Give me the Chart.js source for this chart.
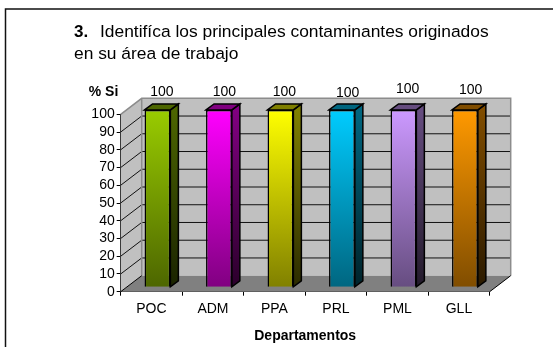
<!DOCTYPE html>
<html>
<head>
<meta charset="utf-8">
<style>
  html, body { margin: 0; padding: 0; background: #fff; overflow: hidden; }
  canvas { display: block; }
</style>
<script src="https://cdn.jsdelivr.net/npm/chart.js@4"></script>
</head>
<body>
<canvas id="chart" width="553" height="347"></canvas>
<script>
// Survey results by department
const departamentos = ['POC', 'ADM', 'PPA', 'PRL', 'PML', 'GLL'];
const porcentajeSi = [100, 100, 100, 100, 100, 100];
const baseColors = ['#99cc00', '#ff00ff', '#ffff00', '#00ccff', '#cc99ff', '#ff9900'];
const yTicks = [0, 10, 20, 30, 40, 50, 60, 70, 80, 90, 100];

const FONT = '"Liberation Sans", Arial, sans-serif';
const WALL = { dx: 21, dy: -16 };       // depth of the plot box
const BAR_SHIFT = { dx: 6, dy: -4.4 };  // bars sit slightly inside the box
const BAR_DEPTH = { dx: 8, dy: -6 };    // depth of each bar
const LABEL_DX = [4.5, 5.5, 4, 5.7, 4.2, 5.7];
const LABEL_Y = [92, 92, 92, 93, 89, 90];

function shade(hex, f) {
  const n = parseInt(hex.slice(1), 16);
  const c = [n >> 16, (n >> 8) & 255, n & 255].map(v => Math.round(v * f));
  return `rgb(${c[0]},${c[1]},${c[2]})`;
}

function poly(ctx, pts, fill, stroke, lw) {
  ctx.beginPath();
  pts.forEach((p, i) => i ? ctx.lineTo(p[0], p[1]) : ctx.moveTo(p[0], p[1]));
  ctx.closePath();
  if (fill) { ctx.fillStyle = fill; ctx.fill(); }
  if (stroke) { ctx.strokeStyle = stroke; ctx.lineWidth = lw; ctx.lineJoin = 'miter'; ctx.stroke(); }
}

// Page frame, heading and the "% Si" caption
const framePlugin = {
  id: 'frame',
  beforeDraw(chart) {
    const ctx = chart.ctx;
    ctx.save();
    ctx.fillStyle = '#fff';
    ctx.fillRect(0, 0, chart.width, chart.height);
    // The frame runs off the right and bottom of the page
    ctx.strokeStyle = '#111';
    ctx.lineWidth = 1.5;
    ctx.beginPath();
    ctx.moveTo(5.5, chart.height);
    ctx.lineTo(5.5, 9);
    ctx.lineTo(chart.width, 9);
    ctx.stroke();
    ctx.fillStyle = '#000';
    ctx.textBaseline = 'alphabetic';
    ctx.textAlign = 'left';
    ctx.font = 'bold 17px ' + FONT;
    ctx.fillText('3.', 74, 37);
    ctx.font = '17.4px ' + FONT;
    ctx.fillText('Identifíca los principales contaminantes originados', 100, 37);
    ctx.fillText('en su área de trabajo', 74, 59);
    ctx.font = 'bold 14px ' + FONT;
    ctx.textAlign = 'center';
    ctx.textBaseline = 'middle';
    ctx.fillText('% Si', 103.5, 92);
    ctx.restore();
  },
  // Walls, floor and receding gridlines of the 3D box
  beforeDatasetsDraw(chart) {
    const ctx = chart.ctx;
    const { left, right, top, bottom } = chart.chartArea;
    const { dx, dy } = WALL;
    ctx.save();
    poly(ctx, [[left, top], [left + dx, top + dy], [left + dx, bottom + dy], [left, bottom]], '#c0c0c0');
    poly(ctx, [[left + dx, top + dy], [right + dx, top + dy], [right + dx, bottom + dy], [left + dx, bottom + dy]], '#c0c0c0');
    poly(ctx, [[left, bottom], [right, bottom], [right + dx, bottom + dy], [left + dx, bottom + dy]], '#808080');

    ctx.lineWidth = 1;
    ctx.strokeStyle = '#111';
    yTicks.filter(v => v > 0 && v < 100).forEach(v => {
      const y = chart.scales.y.getPixelForValue(v);
      ctx.beginPath();
      ctx.moveTo(left, y);
      ctx.lineTo(left + dx, y + dy);
      ctx.lineTo(right + dx, y + dy);
      ctx.stroke();
    });

    ctx.strokeStyle = '#8c8c8c';
    ctx.lineWidth = 1.5;
    ctx.beginPath();
    ctx.moveTo(left, top);
    ctx.lineTo(left + dx, top + dy);
    ctx.lineTo(right + dx, top + dy);
    ctx.lineTo(right + dx, bottom + dy);
    ctx.moveTo(left + dx, top + dy);
    ctx.lineTo(left + dx, bottom + dy);
    ctx.stroke();

    ctx.strokeStyle = '#000';
    ctx.lineWidth = 1;
    ctx.beginPath();
    ctx.moveTo(left, bottom);
    ctx.lineTo(left + dx, bottom + dy);
    ctx.moveTo(right, bottom);
    ctx.lineTo(right + dx, bottom + dy);
    ctx.stroke();
    ctx.restore();
  },
  // Shift the bars into the box and add their side and top faces
  beforeDatasetDraw(chart, args) {
    const ctx = chart.ctx;
    ctx.save();
    ctx.translate(BAR_SHIFT.dx, BAR_SHIFT.dy);
    chart.getDatasetMeta(args.index).data.forEach((bar, i) => {
      const x0 = bar.x - bar.width / 2, x1 = bar.x + bar.width / 2;
      const { dx, dy } = BAR_DEPTH;
      const g = ctx.createLinearGradient(0, bar.y, 0, bar.base);
      g.addColorStop(0, shade(baseColors[i], 0.5));
      g.addColorStop(1, shade(baseColors[i], 0.17));
      poly(ctx, [[x1, bar.y], [x1 + dx, bar.y + dy], [x1 + dx, bar.base + dy], [x1, bar.base]], g, '#000', 1.5);
      poly(ctx, [[x0, bar.y], [x0 + dx, bar.y + dy], [x1 + dx, bar.y + dy], [x1, bar.y]], shade(baseColors[i], 0.5), '#000', 1.5);
    });
  },
  afterDatasetDraw(chart) {
    chart.ctx.restore();
  },
  // Value labels above each bar
  afterDraw(chart) {
    const ctx = chart.ctx;
    ctx.save();
    ctx.font = '14px ' + FONT;
    ctx.fillStyle = '#000';
    ctx.textAlign = 'center';
    ctx.textBaseline = 'middle';
    chart.getDatasetMeta(0).data.forEach((bar, i) => {
      ctx.fillText(String(porcentajeSi[i]), bar.x + BAR_SHIFT.dx + LABEL_DX[i], LABEL_Y[i]);
    });
    ctx.restore();
  }
};

new Chart(document.getElementById('chart'), {
  type: 'bar',
  data: {
    labels: departamentos,
    datasets: [{
      label: '% Si',
      data: porcentajeSi,
      clip: false,
      borderColor: '#000',
      borderWidth: 1.5,
      categoryPercentage: 0.42,
      barPercentage: 1,
      backgroundColor(c) {
        const area = c.chart.chartArea;
        if (!area) return baseColors[c.dataIndex];
        const g = c.chart.ctx.createLinearGradient(0, area.top, 0, area.bottom);
        g.addColorStop(0, baseColors[c.dataIndex]);
        g.addColorStop(1, shade(baseColors[c.dataIndex], 0.5));
        return g;
      }
    }]
  },
  options: {
    responsive: false,
    animation: false,
    events: [],
    layout: { padding: { left: 0, right: 63.3, top: 114.3, bottom: 0 } },
    plugins: { legend: { display: false }, tooltip: { enabled: false } },
    scales: {
      x: {
        afterFit(s) { s.height = 55.3; },
        grid: { drawOnChartArea: false, color: '#000', tickLength: 4, offset: true },
        border: { color: '#000', width: 1 },
        ticks: { color: '#000', font: { family: FONT, size: 14 }, padding: 5, maxRotation: 0 },
        title: {
          display: true,
          text: 'Departamentos',
          color: '#000',
          font: { family: FONT, size: 14, weight: 'bold' },
          padding: { top: 0, bottom: 2 }
        }
      },
      y: {
        min: 0,
        max: 100,
        afterFit(s) { s.width = 120.7; },
        afterBuildTicks(s) { s.ticks = yTicks.map(value => ({ value })); },
        grid: { drawOnChartArea: false, color: '#000', tickLength: 4 },
        border: { color: '#000', width: 1 },
        ticks: { color: '#000', font: { family: FONT, size: 14 }, padding: 2, autoSkip: false }
      }
    }
  },
  plugins: [framePlugin]
});
</script>
</body>
</html>
